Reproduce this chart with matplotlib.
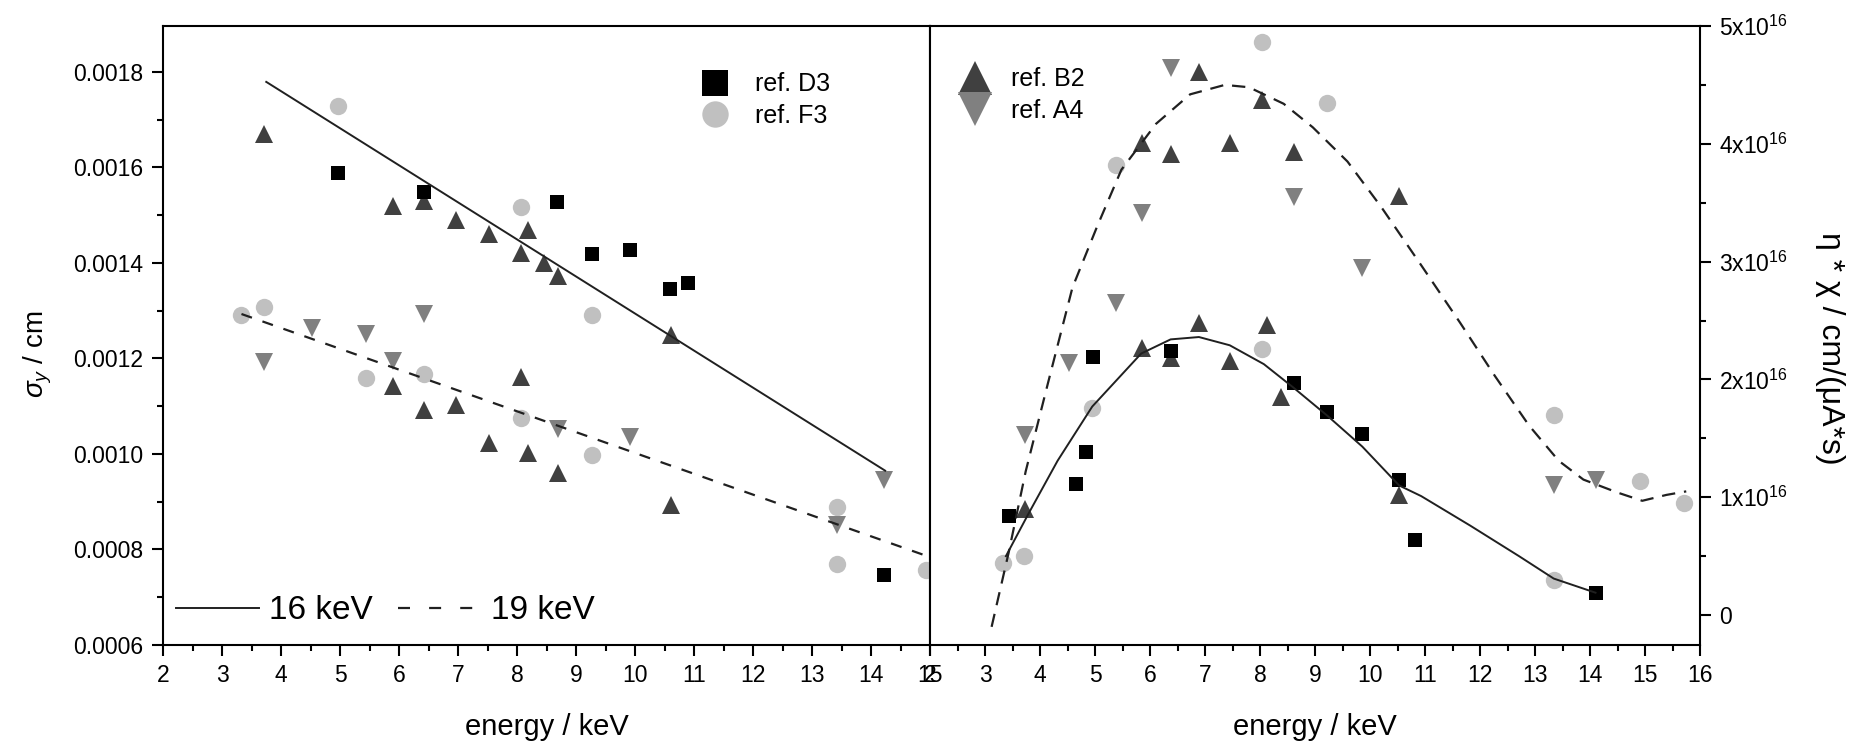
import matplotlib.pyplot as plt
from matplotlib.lines import Line2D

### DATA ###

# left panel: sigma_y (cm) vs energy (keV)
d3_left_e = [4.97, 6.42, 8.67, 9.27, 9.92, 10.59, 10.89, 14.22]
d3_left_s = [0.001588, 0.001549, 0.001528, 0.001418, 0.001426, 0.001346, 0.001357, 0.000746]

f3_left_e = [4.97, 8.07, 3.33, 3.71, 5.44, 6.42, 9.27, 8.07, 9.27, 13.43, 13.43, 14.94]
f3_left_s = [0.001728, 0.001518, 0.001290, 0.001307, 0.001158, 0.001167, 0.001290,
             0.001076, 0.000997, 0.000889, 0.000769, 0.000758]

b2_left_e = [3.71, 5.89, 6.42, 6.97, 7.52, 8.18, 8.07, 8.45, 8.69, 10.61,
             8.07, 5.89, 6.97, 6.42, 7.52, 8.18, 8.69, 10.61]
b2_left_s = [0.001669, 0.001519, 0.001529, 0.001490, 0.001460, 0.001469, 0.001421, 0.001400,
             0.001372, 0.001250, 0.001162, 0.001143, 0.001102, 0.001091, 0.001022, 0.001001,
             0.000960, 0.000893]

a4_left_e = [6.42, 4.53, 5.44, 3.71, 5.89, 8.69, 9.92, 14.22, 13.43]
a4_left_s = [0.001293, 0.001263, 0.001252, 0.001192, 0.001194, 0.001053, 0.001035,
             0.000945, 0.000851]

fit16_left_e = [3.75, 14.24]
fit16_left_s = [0.001779, 0.000965]
fit19_left_e = [3.33, 15.0]
fit19_left_s = [0.001293, 0.000784]

# right panel: eta*chi in units of 1e16 cm/(uA*s) vs energy (keV)
d3_right_e = [3.43, 4.65, 4.84, 4.97, 6.375, 8.61, 9.21, 9.86, 10.53, 10.81, 14.1]
d3_right_v = [0.84, 1.11, 1.38, 2.19, 2.24, 1.97, 1.72, 1.54, 1.15, 0.64, 0.19]

f3_right_e = [8.03, 9.21, 5.39, 8.03, 4.95, 13.34, 14.9, 15.7, 3.32, 3.70, 13.34]
f3_right_v = [4.86, 4.35, 3.82, 2.26, 1.76, 1.70, 1.14, 0.95, 0.44, 0.50, 0.30]

b2_right_e = [6.89, 5.86, 6.375, 7.46, 8.03, 8.61, 10.53,
              6.89, 8.125, 5.86, 6.375, 7.46, 8.38, 10.53, 3.72]
b2_right_v = [4.61, 4.01, 3.91, 4.01, 4.37, 3.93, 3.56,
              2.48, 2.46, 2.27, 2.18, 2.16, 1.85, 1.02, 0.90]

a4_right_e = [6.375, 5.86, 8.61, 9.86, 5.39, 4.52, 3.72, 13.34, 14.1]
a4_right_v = [4.64, 3.41, 3.55, 2.95, 2.65, 2.14, 1.53, 1.10, 1.15]

fit16_right_e = [3.38, 3.79, 4.32, 4.95, 5.84, 6.375, 6.89, 7.45, 8.07, 8.61, 9.23,
                 9.86, 10.53, 10.93, 11.82, 12.71, 13.34, 14.1]
fit16_right_v = [0.50, 0.86, 1.31, 1.77, 2.22, 2.34, 2.36, 2.29, 2.13, 1.93, 1.69,
                 1.43, 1.10, 1.01, 0.76, 0.50, 0.31, 0.19]

fit19_right_e = [3.12, 3.43, 3.74, 4.14, 4.59, 5.04, 5.48, 6.11, 6.73, 7.36, 7.80, 8.43,
                 8.96, 9.59, 10.21, 10.93, 11.64, 12.27, 12.89, 13.43, 13.88, 14.5,
                 14.95, 15.39, 15.75]
fit19_right_v = [-0.10, 0.53, 1.22, 1.96, 2.78, 3.30, 3.78, 4.17, 4.42, 4.50, 4.48, 4.34,
                 4.14, 3.85, 3.46, 2.97, 2.48, 2.03, 1.61, 1.31, 1.15, 1.04,
                 0.97, 1.02, 1.05]

left_ticks = [0.0006, 0.0008, 0.0010, 0.0012, 0.0014, 0.0016, 0.0018]
left_ticklabels = ['0.0006', '0.0008', '0.0010', '0.0012', '0.0014', '0.0016', '0.0018']
right_ticks = [0, 1, 2, 3, 4, 5]
right_ticklabels = ['0', '1x10$^{16}$', '2x10$^{16}$', '3x10$^{16}$', '4x10$^{16}$', '5x10$^{16}$']

### STYLE ###

plt.rcParams['font.family'] = ['Liberation Sans', 'DejaVu Sans']
plt.rcParams['mathtext.fontset'] = 'custom'
plt.rcParams['mathtext.rm'] = 'Liberation Sans'
plt.rcParams['mathtext.it'] = 'Liberation Sans:italic'

C_D3 = 'black'
C_F3 = '#c0c0c0'
C_B2 = '#404040'
C_A4 = '#808080'
C_LINE = '#202020'
DASH_LEFT = (0, (5, 5))
DASH_RIGHT = (0, (6, 4))
DASH_LEGEND = (0, (5.4, 8.6, 5.4, 8.6, 5.4, 30))

W, H = 1863, 749
fig = plt.figure(figsize=(W / 100, H / 100), dpi=100)
ax1 = fig.add_axes([163 / W, 104 / H, 767 / W, 619 / H])
ax2 = fig.add_axes([930 / W, 104 / H, 770 / W, 619 / H])


def scatter_sets(ax, sets):
    for e, v, m, c, ms in sets:
        ax.plot(e, v, linestyle='none', marker=m, color=c, markersize=ms,
                markeredgewidth=0, clip_on=False, zorder=3)


def style_axis(ax):
    ax.tick_params(which='both', direction='out', width=1.5, labelsize=16.5)
    ax.tick_params(which='major', length=8, pad=6)
    ax.tick_params(which='minor', length=4.5)
    for sp in ax.spines.values():
        sp.set_linewidth(1.5)
    ax.set_xlabel('energy / keV', fontsize=21, va='center')
    ax.xaxis.set_label_coords(0.5, -0.1325)


# --- left panel ---
scatter_sets(ax1, [
    (f3_left_e, f3_left_s, 'o', C_F3, 12.5),
    (a4_left_e, a4_left_s, 'v', C_A4, 12.5),
    (b2_left_e, b2_left_s, '^', C_B2, 12.5),
    (d3_left_e, d3_left_s, 's', C_D3, 9.5),
])
ax1.plot(fit16_left_e, fit16_left_s, color=C_LINE, lw=1.4, zorder=4)
ax1.plot(fit19_left_e, fit19_left_s, color=C_LINE, lw=1.6, linestyle=DASH_LEFT, zorder=4)

ax1.set_xlim(2, 15)
ax1.set_ylim(0.0006, 0.001896)
ax1.set_xticks(range(2, 16))
ax1.set_xticks([x + 0.5 for x in range(2, 15)], minor=True)
ax1.set_yticks(left_ticks)
ax1.set_yticklabels(left_ticklabels)
ax1.set_yticks([0.0007, 0.0009, 0.0011, 0.0013, 0.0015, 0.0017], minor=True)
style_axis(ax1)
ax1.tick_params(which='both', top=False, right=False)
ax1.set_ylabel(r'$\sigma_y$ / cm', fontsize=20, va='center')
ax1.yaxis.set_label_coords(-0.163, 0.47)

leg1 = ax1.legend(handles=[
    Line2D([], [], linestyle='none', marker='s', color=C_D3, markersize=19, markeredgewidth=0),
    Line2D([], [], linestyle='none', marker='o', color=C_F3, markersize=19, markeredgewidth=0),
], labels=['ref. D3', 'ref. F3'], loc='upper left', bbox_to_anchor=(0.70, 0.925),
    frameon=False, fontsize=18, borderpad=0, borderaxespad=0, handlelength=1.2,
    handletextpad=1.0, labelspacing=0.3)
ax1.add_artist(leg1)

ax1.legend(handles=[
    Line2D([], [], color=C_LINE, lw=1.4),
    Line2D([], [], color=C_LINE, lw=1.6, linestyle=DASH_LEGEND),
], labels=['16 keV', '19 keV'], loc='lower left', bbox_to_anchor=(0.017, 0.03),
    ncol=2, frameon=False, fontsize=24, borderpad=0, borderaxespad=0,
    handlelength=2.5, handletextpad=0.3, columnspacing=0.75)

# --- right panel ---
scatter_sets(ax2, [
    (f3_right_e, f3_right_v, 'o', C_F3, 12.5),
    (a4_right_e, a4_right_v, 'v', C_A4, 12.5),
    (b2_right_e, b2_right_v, '^', C_B2, 12.5),
    (d3_right_e, d3_right_v, 's', C_D3, 9.5),
])
ax2.plot(fit16_right_e, fit16_right_v, color=C_LINE, lw=1.4, zorder=4)
ax2.plot(fit19_right_e, fit19_right_v, color=C_LINE, lw=1.6, linestyle=DASH_RIGHT, zorder=4)

ax2.set_xlim(2, 16)
ax2.set_ylim(-0.254, 5)
ax2.set_xticks(range(2, 17))
ax2.set_xticks([x + 0.5 for x in range(2, 16)], minor=True)
ax2.set_yticks(right_ticks)
ax2.set_yticklabels(right_ticklabels)
ax2.set_yticks([0.5, 1.5, 2.5, 3.5, 4.5], minor=True)
ax2.yaxis.tick_right()
ax2.yaxis.set_label_position('right')
style_axis(ax2)
ax2.tick_params(which='both', top=False, left=False)
ax2.set_ylabel('η * χ / cm/(μA*s)', fontsize=23, rotation=-90, va='center')
ax2.yaxis.set_label_coords(1.169, 0.48)

ax2.legend(handles=[
    Line2D([], [], linestyle='none', marker='^', color=C_B2, markersize=24, markeredgewidth=0),
    Line2D([], [], linestyle='none', marker='v', color=C_A4, markersize=24, markeredgewidth=0),
], labels=['ref. B2', 'ref. A4'], loc='upper left', bbox_to_anchor=(0.037, 0.933),
    frameon=False, fontsize=18, borderpad=0, borderaxespad=0, handlelength=1.3,
    handletextpad=0.8, labelspacing=0.3)

fig.savefig('out.png', dpi=100)
